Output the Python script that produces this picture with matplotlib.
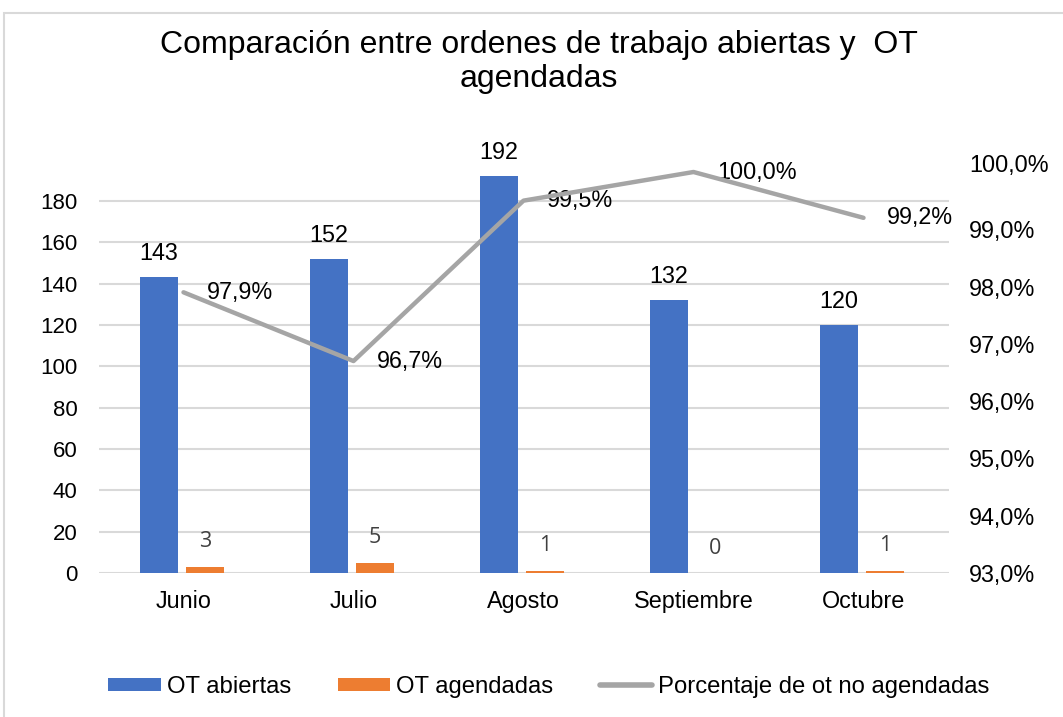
import matplotlib
matplotlib.use("Agg")
import matplotlib.pyplot as plt
from matplotlib.patches import Rectangle, Patch
from matplotlib.lines import Line2D
from matplotlib.transforms import ScaledTranslation
import numpy as np

months = ["Junio", "Julio", "Agosto", "Septiembre", "Octubre"]
ot_abiertas = [143, 152, 192, 132, 120]
ot_agendadas = [3, 5, 1, 0, 1]
porcentaje = [0.979, 0.967, 0.995, 1.000, 0.992]
pct_labels = ["97,9%", "96,7%", "99,5%", "100,0%", "99,2%"]
left_ticks = [0, 20, 40, 60, 80, 100, 120, 140, 160, 180]
right_ticks = [0.93, 0.94, 0.95, 0.96, 0.97, 0.98, 0.99, 1.00]
right_tick_labels = ["93,0%", "94,0%", "95,0%", "96,0%", "97,0%", "98,0%", "99,0%", "100,0%"]

BLUE = "#4472C4"
ORANGE = "#ED7D31"
GRAY = "#A5A5A5"
GRID = "#D9D9D9"
FONT = "Liberation Sans"
FS = 16.8

plt.rcParams['font.family'] = [FONT, 'DejaVu Sans']

W, H = 1063, 717
fig = plt.figure(figsize=(W / 100, H / 100), dpi=100)

# chart border
fig.patches.append(Rectangle((4 / W, 0 - 0.01), 1.0, 1 - 13 / H + 0.01, transform=fig.transFigure,
                             fill=False, edgecolor="#D9D9D9", linewidth=1.5))

ax = fig.add_axes([98.5 / W, 1 - 573 / H, (948.5 - 98.5) / W, (573 - 172) / H])
x = np.arange(len(months))
bw = 0.225
ax.bar(x - 0.144, ot_abiertas, bw, color=BLUE, zorder=3)
ax.bar(x + 0.127, ot_agendadas, bw, color=ORANGE, zorder=3)
ax.set_xlim(-0.5, 4.5)
ax.set_ylim(0, 194)
ax.set_yticks(left_ticks)
ax.set_yticklabels([str(t) for t in left_ticks])
ax.set_xticks(x)
ax.set_xticklabels(months)
ax.tick_params(axis='y', length=0, pad=15, labelsize=FS - 0.8)
ax.tick_params(axis='x', length=0, pad=12, labelsize=FS)
for s in ax.spines.values():
    s.set_visible(False)
ax.grid(axis='y', color=GRID, linewidth=1.5, zorder=0)
ax.set_axisbelow(True)

for xi, v in zip(x, ot_abiertas):
    ax.annotate(str(v), (xi - 0.144, v), xytext=(0, 17), textcoords='offset points',
                ha='center', va='center', fontsize=FS, color='black')
for xi, v in zip(x, ot_agendadas):
    ax.annotate(str(v), (xi + 0.127, v), xytext=(0, 18), textcoords='offset points',
                ha='center', va='center', fontsize=15.5, color='#404040',
                family=['Open Sans', 'DejaVu Sans'])

ax2 = ax.twinx()
ax2.set_ylim(0.93, 1.0)
ax2.set_yticks(right_ticks)
ax2.set_yticklabels(right_tick_labels)
ax2.tick_params(axis='y', length=0, pad=15, labelsize=FS)
for s in ax2.spines.values():
    s.set_visible(False)
top_lbl = ax2.get_yticklabels()[-1]
top_lbl.set_transform(top_lbl.get_transform() + ScaledTranslation(0, 0.09, fig.dpi_scale_trans))

ax2.plot(x, porcentaje, color=GRAY, linewidth=3.2, solid_capstyle='round', zorder=4, clip_on=False)
for xi, v, lab in zip(x, porcentaje, pct_labels):
    ax2.annotate(lab, (xi, v), xytext=(17, 0), textcoords='offset points',
                 ha='left', va='center', fontsize=FS, color='black')

fig.text(539 / W, 1 - 45 / H, "Comparación entre ordenes de trabajo abiertas y  OT",
         ha='center', va='center', fontsize=23)
fig.text(539 / W, 1 - 79 / H, "agendadas", ha='center', va='center', fontsize=23)

handles = [Patch(facecolor=BLUE), Patch(facecolor=ORANGE),
           Line2D([0], [0], color=GRAY, linewidth=4, solid_capstyle='round')]
labels = ["OT abiertas", "OT agendadas", "Porcentaje de ot no agendadas"]
fig.legend(handles, labels, loc='center', bbox_to_anchor=(549 / W, 1 - 687 / H), ncol=3,
           frameon=False, fontsize=17.2, handlelength=2.2, handleheight=0.5,
           handletextpad=0.25, columnspacing=1.95)

fig.savefig("out.png", dpi=100)
